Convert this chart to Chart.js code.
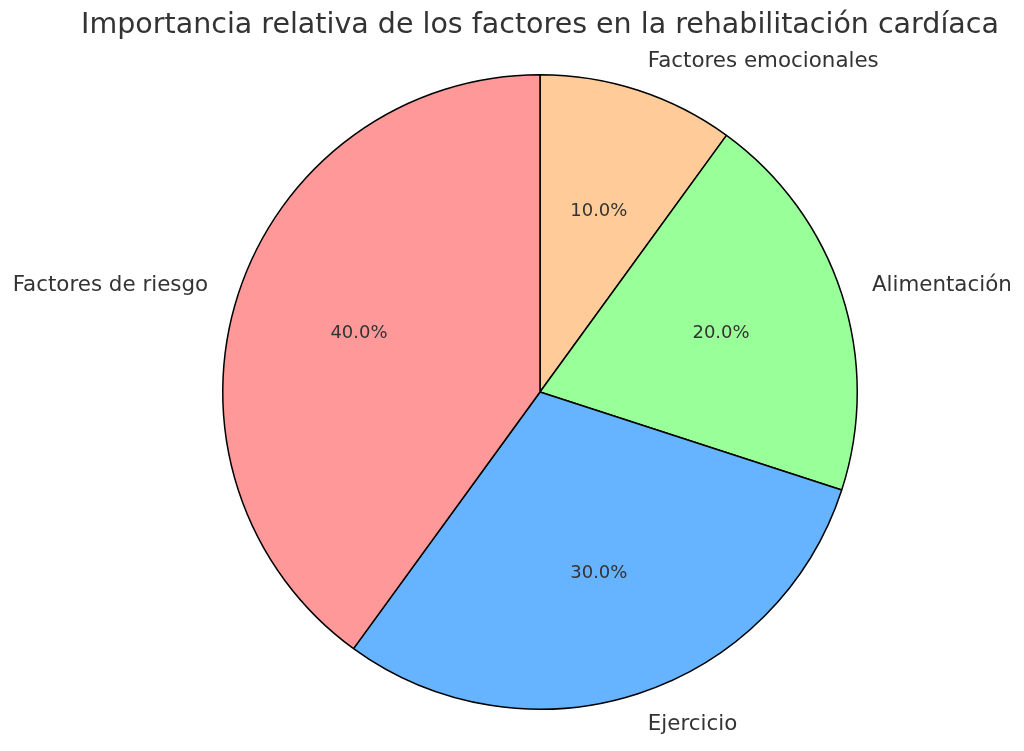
<!DOCTYPE html>
<html>
<head>
<meta charset="utf-8">
<script src="https://cdn.jsdelivr.net/npm/chart.js@4/dist/chart.umd.min.js"></script>
<style>
html,body{margin:0;padding:0;background:#fff;}
#wrap{width:1024px;height:751px;position:relative;}
</style>
</head>
<body>
<div id="wrap"><canvas id="c" width="1024" height="751"></canvas></div>
<script>
const titleText = "Importancia relativa de los factores en la rehabilitación cardíaca";
const categories = ["Factores emocionales", "Alimentación", "Ejercicio", "Factores de riesgo"];
const values = [10, 20, 30, 40];
const colors = ["#ffcc99", "#99ff99", "#66b3ff", "#ff9999"];

const textColor = "#333333";
const FONT = "'DejaVu Sans', sans-serif";

const labelPlugin = {
  id: 'pieLabels',
  afterDraw(chart) {
    const ctx = chart.ctx;
    const meta = chart.getDatasetMeta(0);
    const total = values.reduce((a, b) => a + b, 0);
    ctx.save();
    ctx.fillStyle = textColor;
    // title
    ctx.font = "28.5px " + FONT;
    ctx.textAlign = "center";
    ctx.textBaseline = "middle";
    ctx.fillText(titleText, 540, 26);
    meta.data.forEach((arc, i) => {
      const p = arc.getProps(['x', 'y', 'startAngle', 'endAngle', 'outerRadius'], true);
      const mid = (p.startAngle + p.endAngle) / 2;
      const r = p.outerRadius;
      const cx = Math.cos(mid), cy = Math.sin(mid);
      // outer label
      ctx.font = "21.4px " + FONT;
      ctx.textBaseline = "middle";
      ctx.textAlign = cx >= 0 ? "left" : "right";
      ctx.fillText(categories[i], p.x + 1.1 * r * cx, p.y + 1.1 * r * cy + 1);
      // percent label
      ctx.font = "18px " + FONT;
      ctx.textAlign = "center";
      const pct = (values[i] / total * 100).toFixed(1) + "%";
      ctx.fillText(pct, p.x + 0.6 * r * cx, p.y + 0.6 * r * cy);
    });
    ctx.restore();
  }
};

new Chart(document.getElementById('c'), {
  type: 'pie',
  data: {
    labels: categories,
    datasets: [{
      data: values,
      backgroundColor: colors,
      borderColor: "#000000",
      borderWidth: 1.5,
      hoverOffset: 0
    }]
  },
  options: {
    responsive: false,
    animation: false,
    devicePixelRatio: 1,
    layout: { padding: { left: 222, right: 166, top: 74, bottom: 41 } },
    plugins: {
      legend: { display: false },
      title: { display: false },
      tooltip: { enabled: false }
    },
    events: []
  },
  plugins: [labelPlugin]
});
</script>
</body>
</html>
